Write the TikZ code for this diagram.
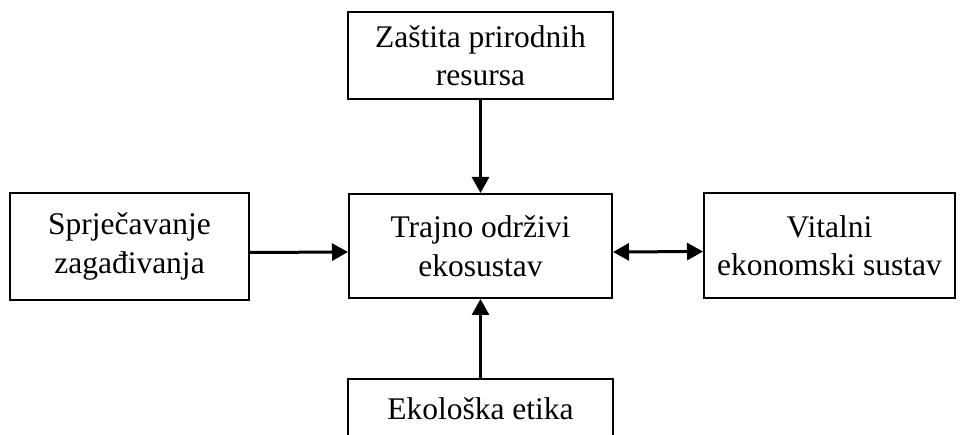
\documentclass[tikz,border=0pt]{standalone}
\usepackage{fontspec}
\setmainfont{Liberation Serif}
\usetikzlibrary{arrows.meta}
\tikzset{
  boxnode/.style={draw, line width=2pt, inner sep=0pt, align=center,
    font=\fontsize{31.5}{38.5}\selectfont},
  tip/.style={},
  conn/.style={line width=3pt, -{Triangle[length=16pt,width=17pt]}},
  dconn/.style={line width=3pt, {Triangle[length=16pt,width=17pt]}-{Triangle[length=16pt,width=17pt]}}
}
\begin{document}
\begin{tikzpicture}[x=1pt,y=-1pt]
\clip (0,0) rectangle (963,435);
\fill[white] (0,0) rectangle (963,435);
\node[boxnode, minimum width=265pt, minimum height=87pt] (top) at (480.5,55.5) {Zaštita prirodnih\\resursa};
\node[boxnode, minimum width=263pt, minimum height=104pt] (mid) at (480.5,246) {Trajno održivi\\ekosustav};
\node[boxnode, minimum width=239pt, minimum height=107pt] (left) at (129.5,246.5) {Sprječavanje\\zagađivanja};
\node[boxnode, minimum width=251pt, minimum height=105pt] (right) at (829.5,245.5) {Vitalni\\ekonomski sustav};
\node[boxnode, minimum width=265pt, inner ysep=10pt, text height=30pt, text depth=40pt, anchor=north] (bot) at (480.5,378) {Ekološka etika};
\draw[conn] (top) -- (mid);
\draw[conn] (bot) -- (mid);
\draw[conn] ([yshift=-6pt]left.east) -- ([yshift=-6pt]mid.west);
\draw[dconn] ([yshift=-6pt]mid.east) -- ([yshift=-6pt]right.west);
\end{tikzpicture}
\end{document}
